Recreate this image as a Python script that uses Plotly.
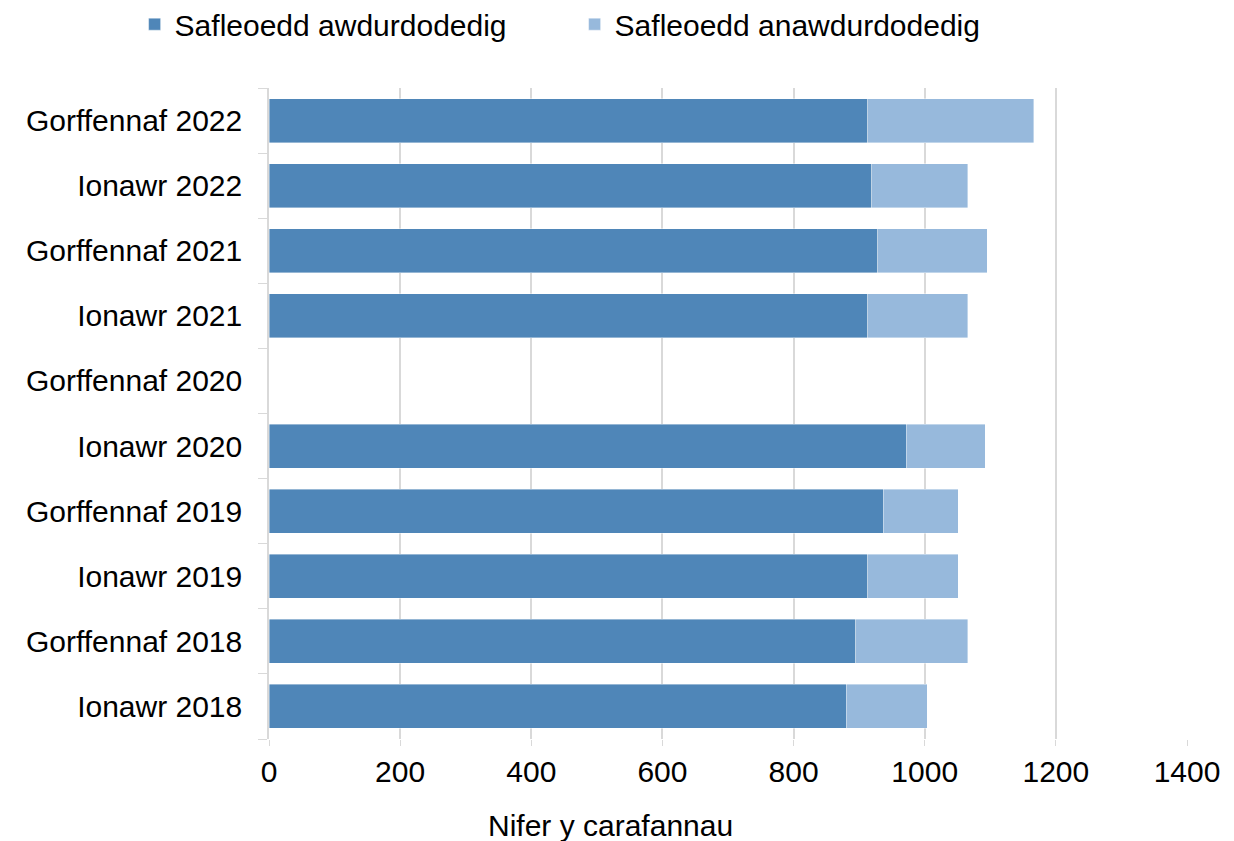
import plotly.graph_objects as go

categories = ["Ionawr 2018", "Gorffennaf 2018", "Ionawr 2019", "Gorffennaf 2019",
              "Ionawr 2020", "Gorffennaf 2020", "Ionawr 2021", "Gorffennaf 2021",
              "Ionawr 2022", "Gorffennaf 2022"]
authorised = [880, 895, 913, 937, 972, None, 913, 928, 919, 913]
unauthorised = [124, 171, 138, 114, 120, None, 153, 167, 147, 253]
series_names = ["Safleoedd awdurdodedig", "Safleoedd anawdurdodedig"]
x_ticks = [0, 200, 400, 600, 800, 1000, 1200, 1400]
x_title = "Nifer y carafannau"

FONT = "Liberation Sans, Arial, sans-serif"
DARK = "#4F86B8"
LIGHT = "#97B9DC"
GRID = "#D9D9D9"

fig = go.Figure()
fig.add_trace(go.Bar(y=categories, x=authorised, orientation="h", name=series_names[0],
                     marker=dict(color=DARK, line=dict(color="rgba(255,255,255,0.5)", width=0.8))))
fig.add_trace(go.Bar(y=categories, x=unauthorised, orientation="h", name=series_names[1],
                     marker=dict(color=LIGHT, line=dict(color="rgba(255,255,255,0.5)", width=0.8))))

fig.update_layout(
    barmode="stack",
    bargap=0.325,
    width=1234, height=841,
    margin=dict(l=261, r=55, t=80, b=110, autoexpand=False),
    paper_bgcolor="white", plot_bgcolor="white",
    font=dict(family=FONT, size=30, color="#000000"),
    showlegend=True,
    legend=dict(orientation="h", x=0.1026, xanchor="left", xref="container",
                y=1.138, yanchor="top", yref="paper",
                font=dict(size=30), entrywidth=395, traceorder="normal",
                itemwidth=30),
    xaxis=dict(range=[0, 1400], tickvals=x_ticks, showgrid=True, gridcolor=GRID, gridwidth=1.5,
               zeroline=False, showline=False, ticks="outside", ticklen=6, tickcolor=GRID,
               ticklabelstandoff=0, tickfont=dict(size=30), automargin=False),
    yaxis=dict(type="category", categoryorder="array", categoryarray=categories,
               showline=True, linecolor=GRID, linewidth=1.5, showgrid=False,
               ticks="outside", tickson="boundaries", ticklen=9, tickcolor=GRID,
               ticklabelstandoff=19, tickfont=dict(size=30), automargin=False),
    annotations=[dict(text=x_title, xref="paper", yref="paper", x=0.3715, y=-0.1336,
                      xanchor="center", yanchor="middle", showarrow=False,
                      font=dict(size=30, family=FONT))],
)

fig.write_html("out.html")
